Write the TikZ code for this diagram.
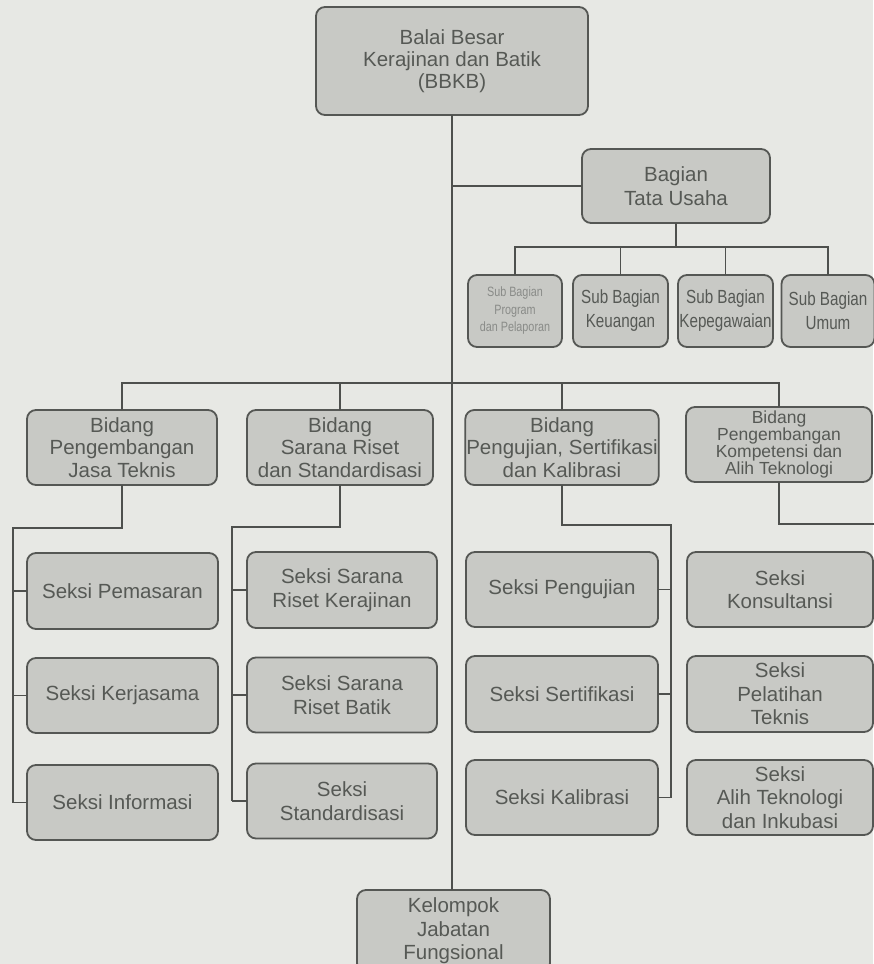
\documentclass[tikz,border=0pt]{standalone}
\usepackage{fontspec}
\setmainfont{Liberation Sans}
\newfontfamily\narrowfont[FakeStretch=0.8]{Liberation Sans}
\definecolor{bgcol}{HTML}{E7E8E4}
\definecolor{boxfill}{HTML}{C8C9C5}
\definecolor{boxline}{HTML}{555754}
\definecolor{linecol}{HTML}{4E504D}
\definecolor{txtcol}{HTML}{565955}
\begin{document}
\begin{tikzpicture}[x=1pt,y=-1pt,
  box/.style={draw=boxline, line width=1.8pt, fill=boxfill, rounded corners=9pt,
    align=center, text=txtcol, inner sep=1pt, outer sep=0pt,
    font=\fontsize{20.5}{23.5}\selectfont},
  sub/.style={box, inner sep=0pt, font=\narrowfont\fontsize{19}{24}\selectfont},
  conn/.style={draw=linecol, line width=1.6pt}]
\fill[bgcol] (0,0) rectangle (873,964);
\useasboundingbox (0,0) rectangle (873,964);

% top
\node[box, minimum width=272pt, minimum height=108pt, font=\fontsize{20.5}{22}\selectfont] (bbkb) at (452,61) {Balai Besar\\Kerajinan dan Batik\\(BBKB)};
\node[box, minimum width=188pt, minimum height=74pt, font=\fontsize{20.5}{24}\selectfont] (tu) at (676,186) {Bagian\\Tata Usaha};

% sub bagian
\node[sub, minimum width=94pt, minimum height=72pt, text=txtcol!70, font=\narrowfont\fontsize{13.5}{17.5}\selectfont] (sb1) at (515,311) {Sub Bagian\\Program\\dan Pelaporan};
\node[sub, minimum width=95pt, minimum height=72pt] (sb2) at (620.5,311) {Sub Bagian\\Keuangan};
\node[sub, minimum width=95pt, minimum height=72pt] (sb3) at (725.5,311) {Sub Bagian\\Kepegawaian};
\node[sub, minimum width=93pt, minimum height=72pt] (sb4) at (828,311) {Sub Bagian\\Umum};

% bidang
\node[box, minimum width=190pt, minimum height=75pt, font=\fontsize{20.5}{22.5}\selectfont] (b1) at (122,447.5) {Bidang\\Pengembangan\\Jasa Teknis};
\node[box, minimum width=186pt, minimum height=75pt, font=\fontsize{20.5}{22.5}\selectfont] (b2) at (340,447.5) {Bidang\\Sarana Riset\\dan Standardisasi};
\node[box, minimum width=192pt, minimum height=75pt, font=\fontsize{20.5}{22.5}\selectfont] (b3) at (562,447.5) {Bidang\\Pengujian, Sertifikasi\\dan Kalibrasi};
\node[box, minimum width=186pt, minimum height=75pt, font=\fontsize{17.5}{16}\selectfont] (b4) at (779,444.5) {Bidang\\Pengembangan\\Kompetensi dan\\Alih Teknologi};

% seksi column 1
\node[box, minimum width=191pt, minimum height=76pt] (s11) at (122.5,591) {Seksi Pemasaran};
\node[box, minimum width=191pt, minimum height=75pt] (s12) at (122.5,695.5) {Seksi Kerjasama};
\node[box, minimum width=191pt, minimum height=75pt] (s13) at (122.5,802.5) {Seksi Informasi};
% seksi column 2
\node[box, minimum width=190pt, minimum height=76pt] (s21) at (342,590) {Seksi Sarana\\Riset Kerajinan};
\node[box, minimum width=190pt, minimum height=75pt] (s22) at (342,695) {Seksi Sarana\\Riset Batik};
\node[box, minimum width=190pt, minimum height=75pt] (s23) at (342,801) {Seksi\\Standardisasi};
% seksi column 3
\node[box, minimum width=192pt, minimum height=75pt] (s31) at (562,589.5) {Seksi Pengujian};
\node[box, minimum width=192pt, minimum height=76pt] (s32) at (562,694) {Seksi Sertifikasi};
\node[box, minimum width=192pt, minimum height=75pt] (s33) at (562,797.5) {Seksi Kalibrasi};
% seksi column 4
\node[box, minimum width=186pt, minimum height=75pt] (s41) at (780,589.5) {Seksi\\Konsultansi};
\node[box, minimum width=186pt, minimum height=76pt] (s42) at (780,694) {Seksi\\Pelatihan\\Teknis};
\node[box, minimum width=186pt, minimum height=75pt] (s43) at (780,797.5) {Seksi\\Alih Teknologi\\dan Inkubasi};

% kelompok
\node[box, minimum width=193pt, minimum height=82pt, font=\fontsize{20.5}{23.5}\selectfont] (kjf) at (453.5,931) {Kelompok\\Jabatan\\Fungsional};

% turning points
\coordinate (sbar) at (0,247);
\coordinate (bbar) at (0,383);
\coordinate (t1) at (13,528);
\coordinate (t2) at (232,527);
\coordinate (t3) at (671,525);
\coordinate (t4) at (880,524);

% connectors
\draw[conn] (bbkb.south) -- (bbkb.south |- kjf.north);
\draw[conn] (bbkb.south |- tu.west) -- (tu.west);
\draw[conn] (tu.south) -- (tu.south |- sbar);
\draw[conn] (sb1.north) -- (sb1.north |- sbar) -- (sb4.north |- sbar) -- (sb4.north);
\draw[conn] (sb2.north) -- (sb2.north |- sbar);
\draw[conn] (sb3.north) -- (sb3.north |- sbar);

\draw[conn] (b1.north) -- (b1.north |- bbar) -- (b4.north |- bbar) -- (b4.north);
\draw[conn] (b2.north) -- (b2.north |- bbar);
\draw[conn] (b3.north) -- (b3.north |- bbar);

\draw[conn] (b1.south) -- (b1.south |- t1) -- (t1) -- (t1 |- s13.west);
\draw[conn] (t1 |- s11.west) -- (s11.west);
\draw[conn] (t1 |- s12.west) -- (s12.west);
\draw[conn] (t1 |- s13.west) -- (s13.west);

\draw[conn] (b2.south) -- (b2.south |- t2) -- (t2) -- (t2 |- s23.west);
\draw[conn] (t2 |- s21.west) -- (s21.west);
\draw[conn] (t2 |- s22.west) -- (s22.west);
\draw[conn] (t2 |- s23.west) -- (s23.west);

\draw[conn] (b3.south) -- (b3.south |- t3) -- (t3) -- (t3 |- s33.east);
\draw[conn] (t3 |- s31.east) -- (s31.east);
\draw[conn] (t3 |- s32.east) -- (s32.east);
\draw[conn] (t3 |- s33.east) -- (s33.east);

\draw[conn] (b4.south) -- (b4.south |- t4) -- (t4);
\end{tikzpicture}
\end{document}
